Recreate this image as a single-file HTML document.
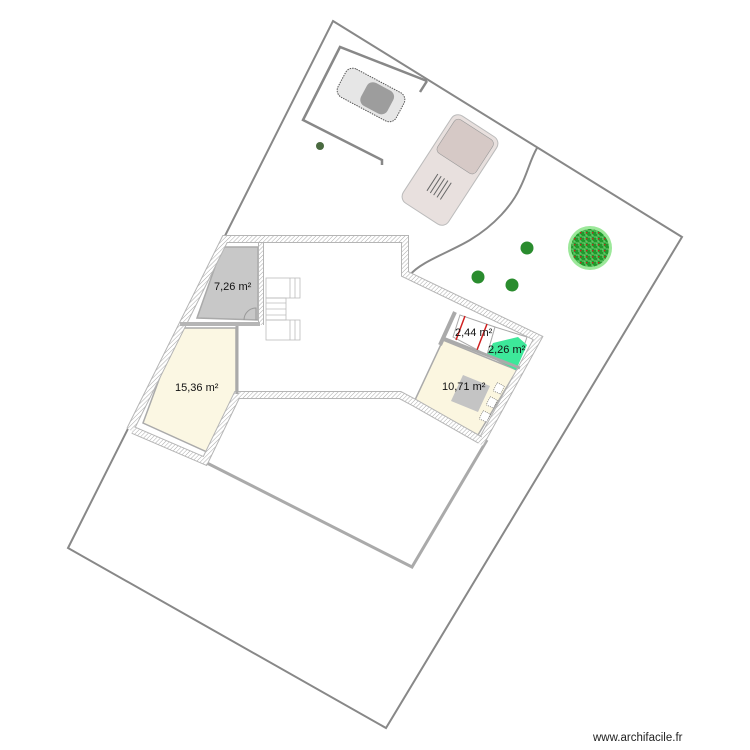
<!DOCTYPE html>
<html><head><meta charset="utf-8"><style>
html,body{margin:0;padding:0;background:#fff;}
svg{display:block;}
text{font-family:"Liberation Sans",sans-serif;font-size:11px;fill:#111;}
</style></head><body>
<svg width="750" height="750" viewBox="0 0 750 750" xmlns="http://www.w3.org/2000/svg">
<defs>
<pattern id="h" width="3" height="3" patternUnits="userSpaceOnUse" patternTransform="rotate(45)">
<rect width="3" height="3" fill="#fff"/><line x1="0" y1="0" x2="0" y2="3" stroke="#aaa" stroke-width="1"/>
</pattern>
<pattern id="tp" width="6" height="6" patternUnits="userSpaceOnUse">
<rect width="6" height="6" fill="#1f9a2c"/><path d="M0 3h3v3M4 0v2h2" stroke="#8fe08a" stroke-width="0.8" fill="none"/><rect x="4" y="4" width="1.4" height="1.4" fill="#d02020"/>
</pattern>
</defs>
<polygon points="333,21 682,237 386,728 68,548" fill="none" stroke="#888" stroke-width="2"/>
<polyline points="427,81 340,47 303,120 382,160 382,165" fill="none" stroke="#888" stroke-width="2.5"/>
<polyline points="427,81 420,92" fill="none" stroke="#888" stroke-width="2.5"/>
<path d="M537,148 C530,160 528,172 520,188 C512,205 495,225 470,240 C450,252 420,262 410,275" fill="none" stroke="#888" stroke-width="2"/>
<polyline points="205,462 412,567 487,440" fill="none" stroke="#aaa" stroke-width="3"/>
<polygon points="197,318 222,247 258,247 258,320" fill="#c8c8c8" stroke="#aaa" stroke-width="1.5"/>
<polygon points="143,423 178,328 236,328 236,393 207,452" fill="#fbf7e3" stroke="#aaa" stroke-width="1.5"/>
<polygon points="415,400 443,340 517,370 478,435" fill="#fbf6e0" stroke="#aaa" stroke-width="1.5"/>
<polygon points="453,337 460,315 495,327 487,355" fill="#fff" stroke="#aaa" stroke-width="1"/>
<polygon points="495,327 527,337 516,370 487,355" fill="#fff" stroke="#aaa" stroke-width="1"/>
<polygon points="487,355 493,343 518,337 527,345 516,370" fill="#3de89a"/>
<line x1="465" y1="316" x2="456" y2="340" stroke="#d02020" stroke-width="1.5"/>
<line x1="487" y1="324" x2="477" y2="350" stroke="#d02020" stroke-width="1.5"/>
<polygon points="463,375 490,386 478,412 451,401" fill="#c4c4c4"/>
<g fill="#fff" stroke="#555" stroke-width="0.6" stroke-dasharray="1,1">
<rect x="495" y="384" width="8" height="9" transform="rotate(25 499 388)"/>
<rect x="488" y="398" width="8" height="9" transform="rotate(25 492 402)"/>
<rect x="481" y="412" width="8" height="9" transform="rotate(25 485 416)"/>
</g>
<g fill="none" stroke-linejoin="miter">
<polyline points="130,430 225,239 405,239 405,274 538,338 480,444" stroke="#b5b5b5" stroke-width="8"/>
<polyline points="130,430 225,239 405,239 405,274 538,338 480,444" stroke="url(#h)" stroke-width="6"/>
<polyline points="133,430 205,461 237,395 400,395 415,403 480,440" stroke="#b5b5b5" stroke-width="8"/>
<polyline points="133,430 205,461 237,395 400,395 415,403 480,440" stroke="url(#h)" stroke-width="6"/>
<line x1="261" y1="243" x2="261" y2="325" stroke="#b5b5b5" stroke-width="6"/>
<line x1="261" y1="243" x2="261" y2="325" stroke="url(#h)" stroke-width="4"/>
<line x1="180" y1="324" x2="260" y2="324" stroke="#b5b5b5" stroke-width="4"/>
<line x1="237" y1="326" x2="237" y2="394" stroke="#aaa" stroke-width="3"/>
<line x1="443" y1="338" x2="520" y2="368" stroke="#aaa" stroke-width="3"/>
<line x1="455" y1="312" x2="440" y2="345" stroke="#aaa" stroke-width="4"/>
</g>
<path d="M244,320 A12,12 0 0 1 256,308 L256,320" fill="none" stroke="#999" stroke-width="1"/>
<g fill="none" stroke="#bbb" stroke-width="0.8">
<rect x="266" y="278" width="34" height="20"/><rect x="266" y="320" width="34" height="20"/>
<rect x="266" y="298" width="20" height="22"/>
<line x1="266" y1="303" x2="286" y2="303"/><line x1="266" y1="309" x2="286" y2="309"/><line x1="266" y1="315" x2="286" y2="315"/>
<line x1="290" y1="278" x2="290" y2="298"/><line x1="295" y1="278" x2="295" y2="298"/>
<line x1="290" y1="320" x2="290" y2="340"/><line x1="295" y1="320" x2="295" y2="340"/>
</g>
<g transform="translate(371,95) rotate(28)">
<rect x="-33" y="-16" width="66" height="32" rx="8" fill="#e6e6e6" stroke="#555" stroke-width="1" stroke-dasharray="1.5,1"/>
<rect x="-8" y="-13" width="30" height="26" rx="7" fill="#9d9d9d"/>
</g>
<g transform="translate(450,170) rotate(-57)">
<rect x="-52" y="-27" width="104" height="54" rx="8" fill="#e8e0de" stroke="#bbb" stroke-width="1"/>
<rect x="8" y="-23" width="40" height="46" rx="5" fill="#d6c9c6" stroke="#999" stroke-width="0.6"/>
<g stroke="#666" stroke-width="1"><line x1="-30" y1="-8" x2="-10" y2="-8"/><line x1="-30" y1="-4" x2="-10" y2="-4"/><line x1="-30" y1="0" x2="-10" y2="0"/><line x1="-30" y1="4" x2="-10" y2="4"/><line x1="-30" y1="8" x2="-10" y2="8"/></g>
</g>
<circle cx="590" cy="248" r="22" fill="#9ce89a"/>
<circle cx="590" cy="248" r="19" fill="url(#tp)"/>
<circle cx="527" cy="248" r="6.5" fill="#2a8c2e"/>
<circle cx="478" cy="277" r="6.5" fill="#2a8c2e"/>
<circle cx="512" cy="285" r="6.5" fill="#2a8c2e"/>
<circle cx="320" cy="146" r="4" fill="#4a6a40"/>
<text x="214" y="290">7,26 m²</text>
<text x="175" y="391">15,36 m²</text>
<text x="442" y="390">10,71 m²</text>
<text x="455" y="336">2,44 m²</text>
<text x="488" y="353">2,26 m²</text>
<text x="593" y="741" style="font-size:11.5px;fill:#222">www.archifacile.fr</text>
</svg>
</body></html>
